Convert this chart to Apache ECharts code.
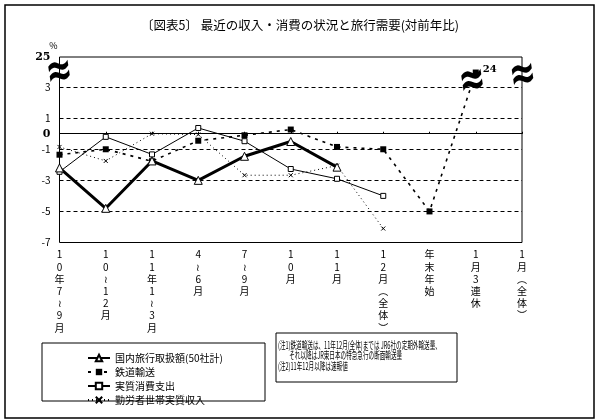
<!DOCTYPE html>
<html><head><meta charset="utf-8">
<script src="https://cdn.jsdelivr.net/npm/echarts@6/dist/echarts.min.js"></script>
<style>html,body{margin:0;padding:0;background:#fff}#c{width:600px;height:420px}</style>
</head><body><div id="c"></div>
<script>
const categories = ['10年7~9月','10~12月','11年1~3月','4~6月','7~9月','10月','11月','12月(全体)','年末年始','1月3連休','1月(全体)'];
const travelSales = [-2.2,-4.8,-1.75,-3.0,-1.45,-0.5,-2.15,null,null,null,null];
const railTransport = [-1.35,-1.0,-1.77,-0.45,-0.1,0.27,-0.85,-1.0,-5.0,24,null];
const realConsumption = [-2.45,-0.2,-1.33,0.37,-0.48,-2.27,-2.9,-4.0,null,null,null];
const workerIncome = [-0.85,-1.75,0.0,-0.05,-2.67,-2.67,-2.05,-6.1,null,null,null];
const seriesNames = ['国内旅行取扱額(50社計)','鉄道輸送','実質消費支出','勤労者世帯実質収入'];
const yTickLabels = [-7,-5,-3,-1,0,1,3,25];
const dashedGridValues = [3,1,-1,-3,-5];
const yBreak = {start: 3.5, end: 23.8};
const titleText = '〔図表5〕 最近の収入・消費の状況と旅行需要(対前年比)';
const noteLines = [
  '(注1)鉄道輸送は、11年12月(全体)までは JR6社の定期外輸送量、',
  '　　それ以降はJR東日本の特急急行の断面輸送量',
  '(注2)11年12月以降は速報値'
];

const FF = '"Noto Sans CJK JP", "Noto Sans", sans-serif';
const chart = echarts.init(document.getElementById('c'), null, {renderer: 'canvas'});

function vertical(s) {
  return s.split('').map(ch => ch === '~' ? '≀' : ch === '(' ? '︵' : ch === ')' ? '︶' : ch).join('\n');
}

const option = {
  animation: false,
  backgroundColor: '#fff',
  title: {
    text: titleText, left: 'center', top: 14,
    textStyle: {fontSize: 12.5, fontWeight: 'normal', color: '#000', fontFamily: FF}
  },
  grid: {left: 59.5, right: 78, top: 57, bottom: 177.5, show: true, borderColor: '#000', borderWidth: 1, containLabel: false},
  legend: {
    orient: 'vertical', left: 82, top: 347, itemWidth: 22, itemHeight: 8, itemGap: 2,
    selectedMode: false, data: seriesNames,
    textStyle: {fontSize: 10, lineHeight: 12, color: '#000', fontFamily: FF}
  },
  xAxis: [
    {
      type: 'category', data: categories, boundaryGap: false, position: 'bottom',
      axisLine: {show: false, onZero: false}, axisTick: {show: false}, splitLine: {show: false},
      axisLabel: {interval: 0, margin: 6, fontSize: 10, lineHeight: 12.2, color: '#000', fontFamily: FF, formatter: vertical}
    },
    {
      type: 'category', data: categories, boundaryGap: false, position: 'top',
      axisLine: {show: true, onZero: true, lineStyle: {color: '#000', width: 1}},
      axisTick: {show: true, length: 2, interval: 0, lineStyle: {color: '#000'}},
      axisLabel: {show: false}, splitLine: {show: false}
    }
  ],
  yAxis: {
    type: 'value', min: -7, max: 25,
    breaks: [{start: yBreak.start, end: yBreak.end, gap: '2%'}],
    breakArea: {show: false},
    axisLine: {show: false}, axisTick: {show: false}, splitLine: {show: false},
    name: '%', nameLocation: 'end', nameGap: 7,
    nameTextStyle: {fontSize: 9, color: '#000', fontFamily: FF, align: 'right', padding: [0, 2, 0, 0]},
    axisLabel: {
      customValues: yTickLabels, margin: 9, fontSize: 10, color: '#000', fontFamily: FF,
      formatter: v => (v === 25 || v === 0) ? '{b|' + v + '}' : String(v),
      rich: {b: {fontWeight: 'bold', fontSize: 11, fontFamily: '"DejaVu Serif", serif', color: '#000'}}
    }
  },
  series: [
    {
      name: seriesNames[0], type: 'line', data: travelSales, z: 6,
      symbol: 'triangle', symbolSize: 8,
      lineStyle: {color: '#000', width: 3},
      itemStyle: {color: '#fff', borderColor: '#000', borderWidth: 1},
      markLine: {
        silent: true, symbol: 'none', label: {show: false}, z: 1,
        lineStyle: {color: '#000', width: 1, type: [4, 3]},
        data: dashedGridValues.map(v => ({yAxis: v}))
      }
    },
    {
      name: seriesNames[1], type: 'line', data: railTransport, z: 4,
      symbol: 'rect', symbolSize: 6,
      lineStyle: {color: '#000', width: 1.6, type: [3, 5]},
      itemStyle: {color: '#000', borderColor: '#000', borderWidth: 0},
      label: {
        show: true, position: 'right', distance: 4, offset: [0, -3],
        formatter: p => (p.value > yBreak.start ? String(p.value) : ''),
        fontWeight: 'bold', fontSize: 10, color: '#000', fontFamily: '"DejaVu Serif", serif'
      }
    },
    {
      name: seriesNames[2], type: 'line', data: realConsumption, z: 5,
      symbol: 'rect', symbolSize: 5,
      lineStyle: {color: '#000', width: 1},
      itemStyle: {color: '#fff', borderColor: '#000', borderWidth: 1}
    },
    {
      name: seriesNames[3], type: 'line', data: workerIncome, z: 3,
      symbol: 'path://M0,0L10,10M10,0L0,10', symbolSize: 4,
      lineStyle: {color: '#000', width: 1, type: [1, 3]},
      itemStyle: {color: 'none', borderColor: '#000', borderWidth: 1}
    }
  ]
};
chart.setOption(option);

// decorations positioned through the chart's own scales
const yMid = chart.convertToPixel({yAxisIndex: 0}, (yBreak.start + yBreak.end) / 2);
const xLeft = chart.convertToPixel({xAxisIndex: 0}, 0);
const xRight = chart.convertToPixel({xAxisIndex: 0}, categories.length - 1);
const p8 = chart.convertToPixel({seriesIndex: 1}, [8, railTransport[8]]);
const p9 = chart.convertToPixel({seriesIndex: 1}, [9, railTransport[9]]);
const yLineSq = yMid + 5;
const xLine = p8[0] + (p9[0] - p8[0]) * (yLineSq - p8[1]) / (p9[1] - p8[1]);

function squiggle(x, y) {
  return {
    type: 'text', x: x, y: y, z: 100, rotation: 0.15, scaleY: 1.5,
    style: {text: '≈', fontSize: 32, fontWeight: 'bold', fill: '#000', align: 'center', verticalAlign: 'middle', fontFamily: '"DejaVu Sans", sans-serif'}
  };
}

chart.setOption({
  graphic: [
    {type: 'rect', shape: {x: 5, y: 5, width: 589, height: 413}, style: {fill: 'none', stroke: '#000', lineWidth: 1.5}, silent: true},
    {type: 'rect', shape: {x: 42, y: 343, width: 223, height: 58}, style: {fill: 'none', stroke: '#000', lineWidth: 1}, silent: true},
    {type: 'rect', shape: {x: 276, y: 333, width: 181, height: 49}, style: {fill: 'none', stroke: '#000', lineWidth: 1}, silent: true},
    ...noteLines.map((t, i) => ({
      type: 'text', x: 278, y: 345 + i * 10.5, scaleX: 0.56,
      style: {text: t, fontSize: 10, fill: '#000', verticalAlign: 'middle', fontFamily: FF}
    })),
    squiggle(xLeft, yMid - 4),
    squiggle(xRight + 1, yMid - 1),
    squiggle(xLine, yLineSq)
  ]
});
</script>
</body></html>
